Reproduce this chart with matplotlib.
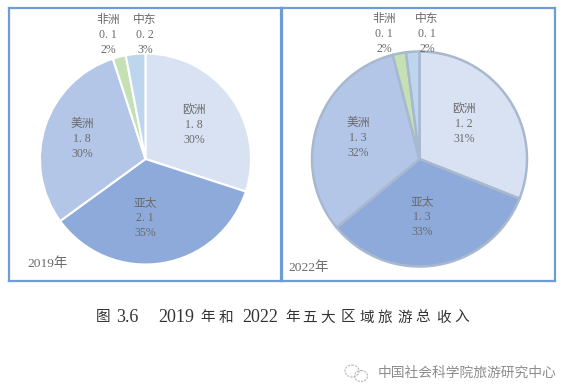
import matplotlib
matplotlib.use("Agg")
import matplotlib.pyplot as plt
from matplotlib.patches import Ellipse

plt.rcParams['font.family'] = ['Liberation Serif', 'Noto Sans CJK SC', 'DejaVu Sans']

W, H = 563, 385

regions = ["欧洲", "亚太", "美洲", "非洲", "中东"]
colors = ["#d9e2f3", "#8eaadb", "#b4c6e7", "#c5e0b3", "#bdd6ee"]

pct_2019 = [30, 35, 30, 2, 3]
val_2019 = ["1. 8", "2. 1", "1. 8", "0. 1", "0. 2"]
pct_2022 = [31, 33, 32, 2, 2]
val_2022 = ["1. 2", "1. 3", "1. 3", "0. 1", "0. 1"]

# label centres in picture pixels
pos_2019 = [(194, 125), (145, 218), (82, 139), (108, 35), (145, 35)]
pos_2022 = [(464, 124), (422, 217), (358, 138), (384, 34), (427, 34)]

caption_parts = ["图", "3.6", "2019", "年", "和", "2022", "年", "五", "大", "区", "域", "旅", "游", "总", "收", "入"]
caption_x = [103, 127, 176, 208, 226, 260, 293, 310, 328, 348, 367, 385, 405, 423, 443, 462]


def panel(box, center, radius, pct, vals, pos, edge, lw, year, year_xy):
    x0, y0, x1, y1 = box
    ax = fig.add_axes([x0 / W, 1 - y1 / H, (x1 - x0) / W, (y1 - y0) / H])
    ax.pie(pct, colors=colors, startangle=90, counterclock=False,
           center=(center[0] - x0, y1 - center[1]), radius=radius, frame=True,
           wedgeprops=dict(edgecolor=edge, linewidth=lw))
    ax.set_xlim(0, x1 - x0)
    ax.set_ylim(0, y1 - y0)
    ax.set_xticks([])
    ax.set_yticks([])
    for s in ax.spines.values():
        s.set_color("#6f9bd8")
        s.set_linewidth(1.6)
    for name, v, p, (px, py) in zip(regions, vals, pct, pos):
        ax.text(px - x0, y1 - py, f"{name}\n{v}\n{p}%", ha="center", va="center",
                fontsize=8.5, color="#6a6a6a", linespacing=1.3)
    ax.text(year_xy[0] - x0, y1 - year_xy[1], year, ha="left", va="center",
            fontsize=9.7, color="#6a6a6a")


fig = plt.figure(figsize=(W / 100, H / 100), dpi=100)

panel((9, 8, 281, 281), (145.5, 159), 105.5, pct_2019, val_2019, pos_2019,
      "white", 1.5, "2019年", (27, 264))
panel((282, 8, 555, 281), (419.5, 159), 107.5, pct_2022, val_2022, pos_2022,
      "#a8b8cf", 1.8, "2022年", (288, 268))

for part, px in zip(caption_parts, caption_x):
    fig.text(px / W, 1 - 318 / H, part, ha="center", va="center",
             fontsize=13 if part.isascii() else 10.5, color="#333333")
fig.text(467 / W, 1 - 373 / H, "中国社会科学院旅游研究中心", ha="center", va="center",
         fontsize=9.9, color="#8c8c8c")

# watermark icon
overlay = fig.add_axes([0, 0, 1, 1])
overlay.set_xlim(0, W)
overlay.set_ylim(H, 0)
overlay.axis("off")
overlay.add_patch(Ellipse((352, 371), 14, 12, fill=False, ec="#b5b5b5", lw=0.8, ls=(0, (2, 1))))
overlay.add_patch(Ellipse((361, 376), 13, 11, fill=False, ec="#b5b5b5", lw=0.8, ls=(0, (2, 1))))

fig.savefig("out.png", dpi=100)
